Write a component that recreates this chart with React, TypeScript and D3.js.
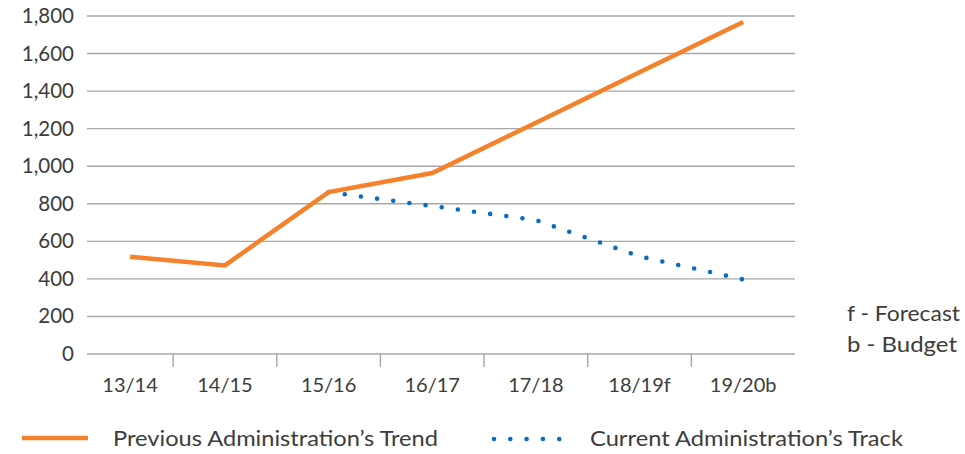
import { useEffect, useRef } from "react";
import * as d3 from "d3";

const categories = ["13/14", "14/15", "15/16", "16/17", "17/18", "18/19f", "19/20b"];
const previousTrend = [518, 472, 862, 964, 1232, 1500, 1768];
const currentTrack: (number | null)[] = [null, null, 862, 788, 713, 520, 397];
const yTicks = [0, 200, 400, 600, 800, 1000, 1200, 1400, 1600, 1800];
const legendLabels = ["Previous Administration\u2019s Trend", "Current Administration\u2019s Track"];
const notes = ["f - Forecast", "b - Budget"];

const ORANGE = "#F5822A";
const BLUE = "#0A6BBF";
const TEXT = "#3c3c3c";
const FONT = "Lato, 'Open Sans', sans-serif";

export default function App() {
  const ref = useRef<SVGSVGElement>(null);

  useEffect(() => {
    if (!ref.current) return;
    const svg = d3.select(ref.current);
    svg.selectAll("*").remove();

    const left = 87;
    const right = 795;
    const top = 16;
    const bottom = 354;

    // category bands: first one is cut off at the left edge of the grid
    const x = d3.scaleBand<string>().domain(categories).range([69.5, right]);
    const bw = x.bandwidth();
    const cx = (c: string) => {
      const x0 = Math.max(x(c)!, left);
      return (x0 + x(c)! + bw) / 2;
    };

    const y = d3.scaleLinear().domain([0, 1800]).range([bottom, top]);

    // gridlines
    svg.append("g")
      .selectAll("line")
      .data(yTicks)
      .enter()
      .append("line")
      .attr("x1", left)
      .attr("x2", right)
      .attr("y1", d => y(d))
      .attr("y2", d => y(d))
      .attr("stroke", "#a8a8a8")
      .attr("stroke-width", 1.4);

    // y labels
    svg.append("g")
      .selectAll("text")
      .data(yTicks)
      .enter()
      .append("text")
      .attr("x", 74)
      .attr("y", d => y(d) + 7)
      .attr("text-anchor", "end")
      .attr("font-family", FONT)
      .attr("font-size", 20.5)
      .attr("fill", TEXT)
      .text(d => d3.format(",")(d));

    // x tick marks between categories
    svg.append("g")
      .selectAll("line")
      .data(categories.slice(1))
      .enter()
      .append("line")
      .attr("x1", d => x(d)!)
      .attr("x2", d => x(d)!)
      .attr("y1", bottom)
      .attr("y2", bottom + 13)
      .attr("stroke", "#a8a8a8")
      .attr("stroke-width", 1.4);

    // x labels
    svg.append("g")
      .selectAll("text")
      .data(categories)
      .enter()
      .append("text")
      .attr("x", d => cx(d))
      .attr("y", 392)
      .attr("text-anchor", "middle")
      .attr("font-family", FONT)
      .attr("font-size", 20)
      .attr("fill", TEXT)
      .text(d => d);

    // current track (dotted)
    const trackData = categories
      .map((c, i) => ({ c, v: currentTrack[i] }))
      .filter(d => d.v !== null) as { c: string; v: number }[];
    const line = d3.line<{ c: string; v: number }>()
      .x(d => cx(d.c))
      .y(d => y(d.v));

    svg.append("path")
      .datum(trackData)
      .attr("fill", "none")
      .attr("stroke", BLUE)
      .attr("stroke-width", 4.6)
      .attr("stroke-linecap", "round")
      .attr("stroke-dasharray", "0 16.3")
      .attr("d", line);

    // previous trend
    const trendData = categories.map((c, i) => ({ c, v: previousTrend[i] }));
    svg.append("path")
      .datum(trendData)
      .attr("fill", "none")
      .attr("stroke", ORANGE)
      .attr("stroke-width", 4.5)
      .attr("stroke-linejoin", "miter")
      .attr("d", line);

    // notes on right
    svg.append("g")
      .selectAll("text")
      .data(notes)
      .enter()
      .append("text")
      .attr("x", 847)
      .attr("y", (d, i) => 321 + i * 31)
      .attr("font-family", FONT)
      .attr("font-size", 21.5)
      .attr("fill", TEXT)
      .attr("textLength", (d, i) => (i === 0 ? 113 : 110))
      .attr("lengthAdjust", "spacingAndGlyphs")
      .text(d => d);

    // legend
    const legend = svg.append("g");
    legend.append("line")
      .attr("x1", 22)
      .attr("x2", 88)
      .attr("y1", 438)
      .attr("y2", 438)
      .attr("stroke", ORANGE)
      .attr("stroke-width", 4.5);
    legend.append("line")
      .attr("x1", 494)
      .attr("x2", 560)
      .attr("y1", 439)
      .attr("y2", 439)
      .attr("stroke", BLUE)
      .attr("stroke-width", 4.6)
      .attr("stroke-linecap", "round")
      .attr("stroke-dasharray", "0 16.3");
    legend.selectAll("text")
      .data(legendLabels)
      .enter()
      .append("text")
      .attr("x", (d, i) => (i === 0 ? 113 : 590))
      .attr("y", 446)
      .attr("font-family", FONT)
      .attr("font-size", 22)
      .attr("fill", TEXT)
      .attr("textLength", (d, i) => (i === 0 ? 325 : 313))
      .attr("lengthAdjust", "spacingAndGlyphs")
      .text(d => d);
  }, []);

  return (
    <svg
      ref={ref}
      width={965}
      height={454}
      style={{ position: "absolute", left: 0, top: 0, background: "#fff" }}
    />
  );
}
